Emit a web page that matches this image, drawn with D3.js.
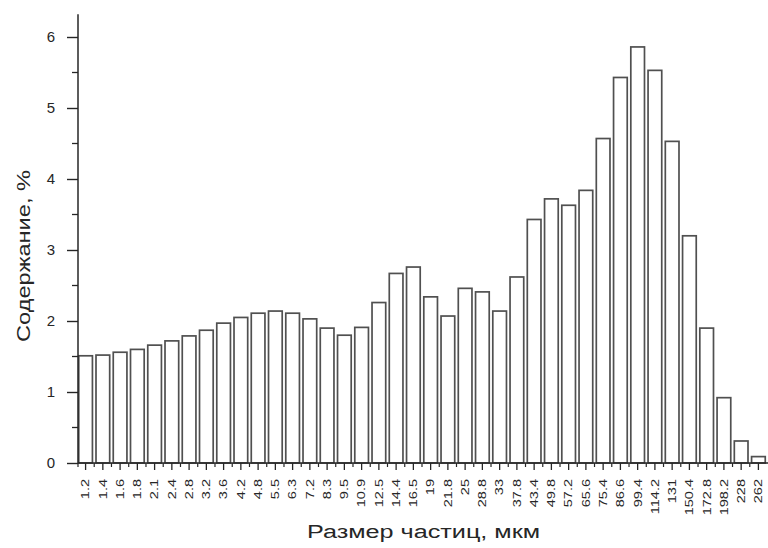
<!DOCTYPE html>
<html><head><meta charset="utf-8">
<script src="https://cdn.jsdelivr.net/npm/d3@7"></script>
<style>body{margin:0;background:#fff}</style>
</head><body>
<svg id="c" width="768" height="548"></svg>
<script>
const categories = ["1.2","1.4","1.6","1.8","2.1","2.4","2.8","3.2","3.6","4.2","4.8","5.5","6.3","7.2","8.3","9.5","10.9","12.5","14.4","16.5","19","21.8","25","28.8","33","37.8","43.4","49.8","57.2","65.6","75.4","86.6","99.4","114.2","131","150.4","172.8","198.2","228","262"];
const values = [1.51,1.52,1.56,1.60,1.66,1.72,1.79,1.87,1.97,2.05,2.11,2.14,2.11,2.03,1.90,1.80,1.91,2.26,2.67,2.76,2.34,2.07,2.46,2.41,2.14,2.62,3.43,3.72,3.63,3.84,4.57,5.43,5.86,5.53,4.53,3.20,1.90,0.92,0.31,0.09];
const yTicks = [0,1,2,3,4,5,6];
const xTitle = "Размер частиц, мкм";
const yTitle = "Содержание, %";

const svg = d3.select("#c");
const x0 = 78, x1 = 766, yBot = 463;
const x = d3.scaleBand().domain(categories).range([x0, x1]).paddingInner(0.12).paddingOuter(0);
const y = d3.scaleLinear().domain([0, 6]).range([yBot, 37]);
const font = "Arial, 'Liberation Sans', sans-serif";
const ink = "#262626";

// bars
svg.append("g").selectAll("rect").data(values).join("rect")
  .attr("x", (d,i) => x(categories[i]) + 0.75)
  .attr("y", d => y(d))
  .attr("width", x.bandwidth() - 1.5)
  .attr("height", d => yBot - y(d))
  .attr("fill", "#fff").attr("stroke", "#505050").attr("stroke-width", 1.7);

// y axis
const ya = svg.append("g").attr("transform", `translate(${x0},0)`)
  .call(d3.axisLeft(y).tickValues(yTicks).tickFormat(d3.format("d")).tickSize(11).tickPadding(12));
ya.select(".domain").attr("d", `M0,${yBot}V${y(6.32)}`).attr("stroke", ink).attr("stroke-width", 1.5);
ya.selectAll(".tick line").attr("stroke", ink).attr("stroke-width", 1.4);
ya.selectAll("text").attr("font-family", font).attr("font-size", 15).attr("fill", ink);
const minorY = [0.5,1.5,2.5,3.5,4.5,5.5];
ya.selectAll(".minor").data(minorY).join("line").attr("class","minor")
  .attr("x1", -6).attr("x2", 0).attr("y1", d => y(d)).attr("y2", d => y(d))
  .attr("stroke", ink).attr("stroke-width", 1.3);

// x axis
const xa = svg.append("g").attr("transform", `translate(0,${yBot})`)
  .call(d3.axisBottom(x).tickSize(7).tickPadding(4));
xa.select(".domain").attr("d", `M${x0},0H768`).attr("stroke", ink).attr("stroke-width", 1.5);
xa.selectAll(".tick line").attr("stroke", ink).attr("stroke-width", 1.3);
const sx = 1.32;
xa.selectAll("text").attr("font-family", font).attr("font-size", 11).attr("fill", ink)
  .attr("transform", `rotate(-90) scale(${sx},1)`).attr("text-anchor", "end").attr("dy", "0.35em")
  .attr("x", -16 / sx).attr("y", 0);
const step = x.step();
const minorX = categories.slice(1).map(c => x(c) - (step - x.bandwidth())/2);
xa.selectAll(".minor").data([x0, ...minorX]).join("line").attr("class","minor")
  .attr("x1", d => d).attr("x2", d => d).attr("y1", 0).attr("y2", 4)
  .attr("stroke", ink).attr("stroke-width", 1.2);

// titles
svg.append("text").attr("x", 423.5).attr("y", 538).attr("text-anchor", "middle")
  .attr("font-family", font).attr("font-size", 18).attr("fill", ink)
  .attr("textLength", 233).attr("lengthAdjust", "spacingAndGlyphs").text(xTitle);
svg.append("text").attr("transform", "translate(30,256) rotate(-90)").attr("text-anchor", "middle")
  .attr("font-family", font).attr("font-size", 18).attr("fill", ink)
  .attr("textLength", 172).attr("lengthAdjust", "spacingAndGlyphs").text(yTitle);
</script>
</body></html>
